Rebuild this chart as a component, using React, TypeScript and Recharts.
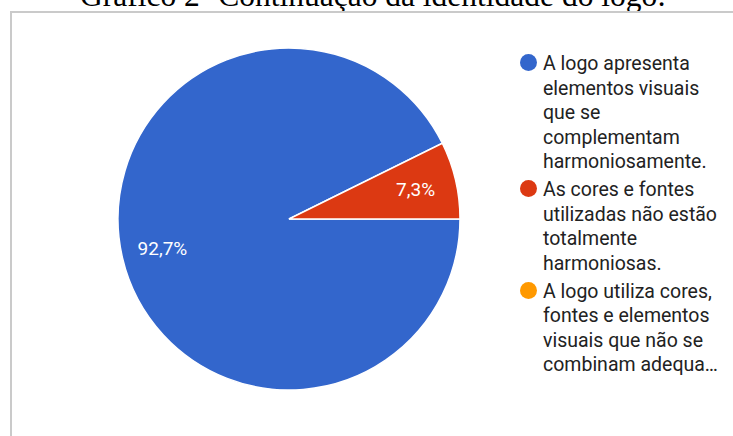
import React from "react";
import { PieChart, Pie, Cell } from "recharts";

const titleText = "Gráfico 2- Continuação da identidade do logo:";
const categories = [
  "A logo apresenta elementos visuais que se complementam harmoniosamente.",
  "As cores e fontes utilizadas não estão totalmente harmoniosas.",
  "A logo utiliza cores, fontes e elementos visuais que não se combinam adequadamente.",
];
const legendLines = [
  ["A logo apresenta", "elementos visuais", "que se", "complementam", "harmoniosamente."],
  ["As cores e fontes", "utilizadas não estão", "totalmente", "harmoniosas."],
  ["A logo utiliza cores,", "fontes e elementos", "visuais que não se", "combinam adequa…"],
];
const values = [92.7, 7.3, 0];
const valueLabels = ["92,7%", "7,3%", ""];
const colors = ["#3366cc", "#dc3912", "#ff9900"];

const data = categories.map((name, i) => ({ name, value: values[i], label: valueLabels[i] }));
const total = values.reduce((a, b) => a + b, 0);
const startAngle = (360 * values[1]) / total;

const RAD = Math.PI / 180;
const renderLabel = (props: any) => {
  const { cx, cy, midAngle, outerRadius, index } = props;
  const lbl = valueLabels[index];
  if (!lbl) return null;
  const r = outerRadius * 0.76;
  const x = cx + r * Math.cos(-midAngle * RAD);
  const y = cy + r * Math.sin(-midAngle * RAD);
  return (
    <text
      x={x}
      y={y}
      fill="#ffffff"
      textAnchor="middle"
      dominantBaseline="central"
      fontFamily="Roboto, sans-serif"
      fontSize={19}
    >
      {lbl}
    </text>
  );
};

export default function App() {
  return (
    <div
      style={{
        position: "absolute",
        left: 0,
        top: 0,
        width: 733,
        height: 436,
        overflow: "hidden",
        background: "#ffffff",
      }}
    >
      <div
        style={{
          position: "absolute",
          left: 80,
          top: -20,
          fontFamily: "'Liberation Serif', 'Times New Roman', serif",
          fontSize: 31.5,
          lineHeight: "31.5px",
          color: "#000",
          whiteSpace: "nowrap",
        }}
      >
        {titleText}
      </div>
      <div
        style={{
          position: "absolute",
          left: 10,
          top: 11,
          width: 740,
          height: 440,
          borderLeft: "2px solid #cacaca",
          borderTop: "2px solid #cacaca",
          background: "#ffffff",
        }}
      />
      <div style={{ position: "absolute", left: 0, top: 0 }}>
        <PieChart width={733} height={436}>
          <Pie
            data={data}
            dataKey="value"
            nameKey="name"
            cx={284}
            cy={214}
            outerRadius={171}
            startAngle={startAngle}
            endAngle={startAngle + 360}
            stroke="#ffffff"
            strokeWidth={1.5}
            label={renderLabel}
            labelLine={false}
            isAnimationActive={false}
          >
            {data.map((d, i) => (
              <Cell key={i} fill={colors[i]} />
            ))}
          </Pie>
        </PieChart>
      </div>
      <div
        style={{
          position: "absolute",
          left: 519,
          top: 52,
          fontFamily: "Roboto, sans-serif",
          fontSize: 19.5,
          lineHeight: "24.5px",
          color: "#222222",
          display: "flex",
          flexDirection: "column",
          gap: 3.5,
        }}
      >
        {legendLines.map((lines, i) => (
          <div key={i} style={{ position: "relative", paddingLeft: 24 }}>
            <span
              style={{
                position: "absolute",
                left: 1,
                top: 2,
                width: 17,
                height: 17,
                borderRadius: "50%",
                background: colors[i],
              }}
            />
            {lines.map((l, j) => (
              <div key={j} style={{ whiteSpace: "nowrap" }}>
                {l}
              </div>
            ))}
          </div>
        ))}
      </div>
    </div>
  );
}
